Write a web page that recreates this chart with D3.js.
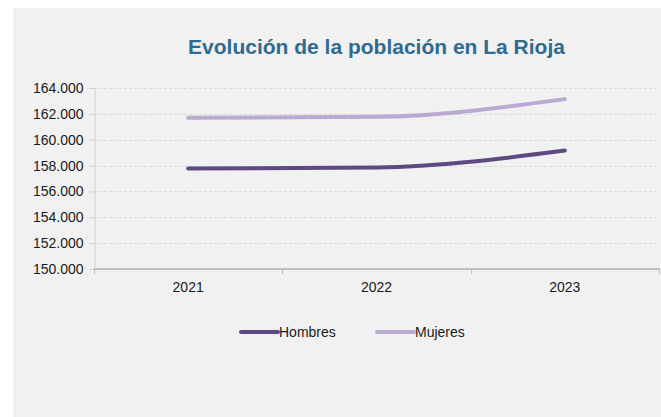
<!DOCTYPE html>
<html>
<head>
<meta charset="utf-8">
<script src="https://cdn.jsdelivr.net/npm/d3@7"></script>
<style>
  html, body { margin: 0; padding: 0; background: #ffffff; }
  svg { display: block; font-family: "Liberation Sans", Arial, sans-serif; }
</style>
</head>
<body>
<svg id="chart" width="661" height="417"></svg>
<script>
// Población de La Rioja por sexo
const years = ["2021", "2022", "2023"];
const hombres = [157770, 157850, 159160];
const mujeres = [161690, 161770, 163140];
const yTicks = [150000, 152000, 154000, 156000, 158000, 160000, 162000, 164000];
const seriesNames = ["Hombres", "Mujeres"];
const seriesColors = ["#5c4a80", "#b8aad2"];

const svg = d3.select("#chart");

// panel de fondo
svg.append("rect")
  .attr("x", 13).attr("y", 8)
  .attr("width", 648).attr("height", 409)
  .attr("fill", "#f1f1f1");

const plot = { left: 94, right: 659, top: 88, bottom: 269 };

const x = d3.scaleBand().domain(years).range([plot.left, plot.right]).padding(0);
const y = d3.scaleLinear().domain([150000, 164000]).range([plot.bottom, plot.top]);

// separador de miles con punto
const label = v => {
  const s = String(Math.round(v));
  return s.slice(0, s.length - 3) + "." + s.slice(-3);
};

// título
svg.append("text")
  .attr("x", (plot.left + plot.right) / 2)
  .attr("y", 54)
  .attr("text-anchor", "middle")
  .attr("fill", "#2f6a91")
  .attr("font-size", 21)
  .attr("font-weight", "bold")
  .text("Evolución de la población en La Rioja");

// líneas de cuadrícula
svg.append("g")
  .selectAll("line")
  .data(yTicks.filter(t => t !== 150000))
  .join("line")
  .attr("x1", plot.left).attr("x2", plot.right)
  .attr("y1", d => Math.round(y(d)) + 0.5).attr("y2", d => Math.round(y(d)) + 0.5)
  .attr("stroke", "#d9d9d9")
  .attr("stroke-width", 1)
  .attr("stroke-dasharray", "3,2");

// eje Y
const yAxis = svg.append("g")
  .attr("transform", `translate(${plot.left + 0.5},0)`)
  .call(d3.axisLeft(y).tickValues(yTicks).tickSize(5).tickPadding(6).tickFormat(label));
yAxis.select(".domain").attr("stroke", "#d0d0d0");
yAxis.selectAll(".tick line").attr("stroke", "#d0d0d0");
yAxis.selectAll(".tick text")
  .attr("fill", "#1a1a1a")
  .attr("font-size", 14)
  .attr("font-family", "Liberation Sans, Arial, sans-serif");

// eje X
const xAxis = svg.append("g")
  .attr("transform", `translate(0,${plot.bottom})`);
xAxis.append("line")
  .attr("x1", plot.left).attr("x2", plot.right + 1)
  .attr("y1", 0).attr("y2", 0)
  .attr("stroke", "#bfbfbf").attr("stroke-width", 2);
const bounds = years.map(d => x(d)).concat([x(years[years.length - 1]) + x.bandwidth()]);
xAxis.selectAll("line.tk")
  .data(bounds)
  .join("line")
  .attr("class", "tk")
  .attr("x1", d => Math.round(d) + 0.5).attr("x2", d => Math.round(d) + 0.5)
  .attr("y1", 0).attr("y2", 5)
  .attr("stroke", "#bfbfbf");
xAxis.selectAll("text")
  .data(years)
  .join("text")
  .attr("x", d => x(d) + x.bandwidth() / 2)
  .attr("y", 23)
  .attr("text-anchor", "middle")
  .attr("fill", "#1a1a1a")
  .attr("font-size", 14)
  .text(d => d);

// series
const line = d3.line()
  .x((d, i) => x(years[i]) + x.bandwidth() / 2)
  .y(d => y(d))
  .curve(d3.curveMonotoneX);

[hombres, mujeres].forEach((vals, k) => {
  svg.append("path")
    .datum(vals)
    .attr("d", line)
    .attr("fill", "none")
    .attr("stroke", seriesColors[k])
    .attr("stroke-width", 4)
    .attr("stroke-linecap", "round")
    .attr("stroke-linejoin", "round");
});

// leyenda
const legendX = [241, 377];
const legend = svg.append("g");
seriesNames.forEach((name, k) => {
  legend.append("line")
    .attr("x1", legendX[k]).attr("x2", legendX[k] + 37)
    .attr("y1", 332).attr("y2", 332)
    .attr("stroke", seriesColors[k])
    .attr("stroke-width", 4)
    .attr("stroke-linecap", "round");
  legend.append("text")
    .attr("x", legendX[k] + 38)
    .attr("y", 337)
    .attr("fill", "#1a1a1a")
    .attr("font-size", 14)
    .text(name);
});
</script>
</body>
</html>
